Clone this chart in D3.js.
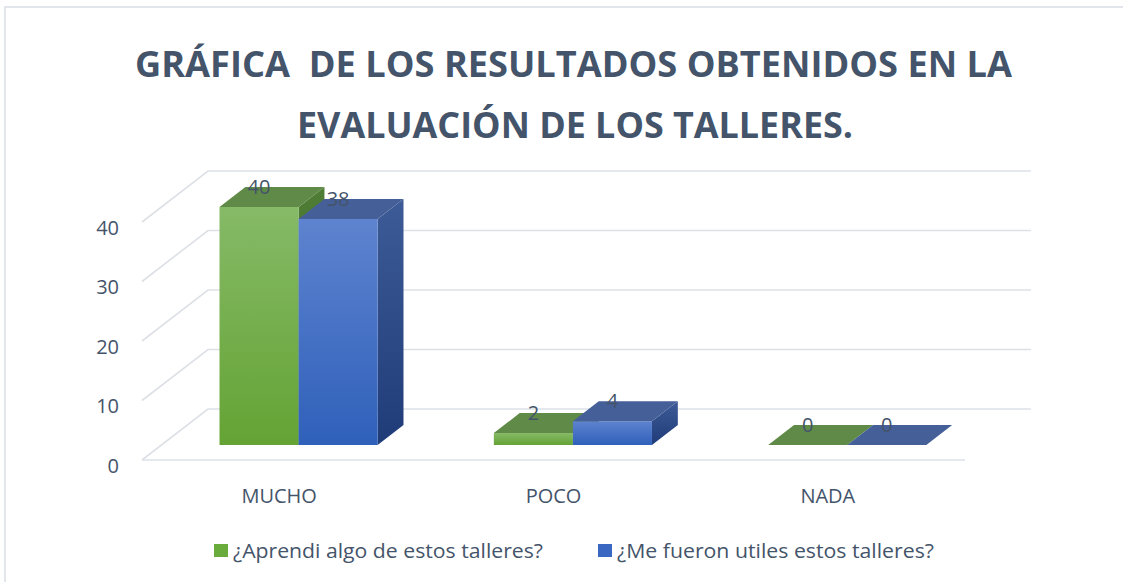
<!DOCTYPE html>
<html>
<head>
<meta charset="utf-8">
<script src="https://cdnjs.cloudflare.com/ajax/libs/d3/7.8.5/d3.min.js"></script>
<style>
  html, body { margin: 0; padding: 0; background: #fff; }
  svg { display: block; font-family: "Open Sans", "Noto Sans", sans-serif; }
</style>
</head>
<body>
<div id="chart"></div>
<script>
// data
const categories = ["MUCHO", "POCO", "NADA"];
const seriesNames = ["¿Aprendi algo de estos talleres?", "¿Me fueron utiles estos talleres?"];
const aprendi = [40, 2, 0];
const utiles = [38, 4, 0];
const yTicks = [0, 10, 20, 30, 40];
const titleLines = ["GRÁFICA  DE LOS RESULTADOS OBTENIDOS EN LA", "EVALUACIÓN DE LOS TALLERES."];

const width = 1123, height = 582;
const textColor = "#44546a";
const gridColor = "#dde1e6";

const svg = d3.select("#chart").append("svg")
  .attr("width", width)
  .attr("height", height);

// gradients
const defs = svg.append("defs");
function grad(id, top, bottom) {
  const g = defs.append("linearGradient").attr("id", id)
    .attr("x1", 0).attr("y1", 0).attr("x2", 0).attr("y2", 1);
  g.append("stop").attr("offset", "0%").attr("stop-color", top);
  g.append("stop").attr("offset", "100%").attr("stop-color", bottom);
}
grad("gFront0", "#86ba67", "#64a334");
grad("gSide0", "#4f7d35", "#3f6a26");
grad("gFront1", "#5e83cf", "#2f60ba");
grad("gSide1", "#3d5b97", "#1f3c78");
const topColors = ["#5f8a47", "#455f98"];

// chart border
svg.append("rect")
  .attr("x", 5).attr("y", 7)
  .attr("width", 1300).attr("height", 700)
  .attr("fill", "none")
  .attr("stroke", "#d9dde2")
  .attr("stroke-width", 1.5);

// title
svg.append("g").selectAll("text")
  .data(titleLines)
  .enter().append("text")
  .attr("x", (d, i) => i === 0 ? 135 : 297)
  .attr("y", (d, i) => i === 0 ? 77 : 138)
  .attr("textLength", (d, i) => i === 0 ? 877 : 556)
  .attr("lengthAdjust", "spacingAndGlyphs")
  .attr("font-size", 35)
  .attr("font-weight", "bold")
  .attr("fill", textColor)
  .style("white-space", "pre")
  .text(d => d);

// scales
const x0 = d3.scaleBand().domain(categories).range([142, 965]);
const x1 = d3.scaleBand().domain([0, 1]).range([0, x0.bandwidth()]).paddingOuter(0.735);
const y = d3.scaleLinear().domain([0, 40]).range([460, 222]);

// depth projection
const depthX = 66, depthY = -51;
const z0 = 0.294, z1 = 0.686;
const pt = (xv, yv, z) => [xv + z * depthX, yv + z * depthY];
const poly = pts => "M" + pts.map(p => p.join(",")).join("L") + "Z";

// gridlines (left wall + back wall)
const grid = svg.append("g")
  .attr("fill", "none")
  .attr("stroke", gridColor)
  .attr("stroke-width", 1.6);
grid.selectAll("path.tick")
  .data(yTicks)
  .enter().append("path")
  .attr("class", "tick")
  .attr("d", d => {
    const a = pt(x0.range()[0], y(d), 0);
    const b = pt(x0.range()[0], y(d), 1);
    const c = pt(x0.range()[1], y(d), 1);
    return "M" + a + "L" + b + "L" + c;
  });
grid.append("path")
  .attr("d", "M" + pt(x0.range()[0], y(0), 0) + "L" + pt(x0.range()[1], y(0), 0));

// y axis labels
const yAxis = svg.append("g")
  .attr("transform", "translate(142,6)")
  .call(d3.axisLeft(y).tickValues(yTicks).tickSize(0).tickPadding(23));
yAxis.select(".domain").remove();
yAxis.selectAll("text")
  .attr("font-family", "Open Sans, sans-serif")
  .attr("font-size", 20)
  .attr("fill", textColor);

// x axis labels
const xAxis = svg.append("g")
  .attr("transform", "translate(0,460)")
  .call(d3.axisBottom(x0).tickSize(0).tickPadding(29));
xAxis.select(".domain").remove();
xAxis.selectAll("text")
  .attr("font-family", "Open Sans, sans-serif")
  .attr("font-size", 20)
  .attr("fill", textColor);

// bars
const rows = [];
categories.forEach((c, ci) => {
  [aprendi, utiles].forEach((s, si) => rows.push({ cat: c, s: si, v: s[ci] }));
});

const bars = svg.append("g");
rows.forEach(d => {
  const xa = x0(d.cat) + x1(d.s);
  const xb = xa + x1.bandwidth();
  const yt = y(d.v), yb = y(0);
  const g = bars.append("g");
  if (d.v > 0) {
    g.append("path")
      .attr("d", poly([pt(xb, yt, z0), pt(xb, yt, z1), pt(xb, yb, z1), pt(xb, yb, z0)]))
      .attr("fill", "url(#gSide" + d.s + ")");
    g.append("path")
      .attr("d", poly([pt(xa, yt, z0), pt(xb, yt, z0), pt(xb, yb, z0), pt(xa, yb, z0)]))
      .attr("fill", "url(#gFront" + d.s + ")");
  }
  g.append("path")
    .attr("d", poly([pt(xa, yt, z0), pt(xb, yt, z0), pt(xb, yt, z1), pt(xa, yt, z1)]))
    .attr("fill", topColors[d.s]);
});

// data labels
svg.append("g").selectAll("text")
  .data(rows)
  .enter().append("text")
  .attr("x", d => x0(d.cat) + x1(d.s) + x1.bandwidth() / 2 + z0 * depthX)
  .attr("y", d => y(d.v) + z1 * depthY)
  .attr("dy", "0.35em")
  .attr("text-anchor", "middle")
  .attr("font-size", 20)
  .attr("fill", textColor)
  .text(d => d.v);

// legend
const legendX = [214, 598];
const legend = svg.append("g").selectAll("g")
  .data(seriesNames)
  .enter().append("g")
  .attr("transform", (d, i) => "translate(" + legendX[i] + ",544)");
legend.append("rect")
  .attr("width", 14).attr("height", 13)
  .attr("fill", (d, i) => i === 0 ? "#6aac3c" : "#3a67c2");
legend.append("text")
  .attr("x", 19).attr("y", 7)
  .attr("dy", "0.35em")
  .attr("font-size", 20)
  .attr("textLength", (d, i) => i === 0 ? 310 : 317)
  .attr("lengthAdjust", "spacingAndGlyphs")
  .attr("fill", textColor)
  .text(d => d);
</script>
</body>
</html>
